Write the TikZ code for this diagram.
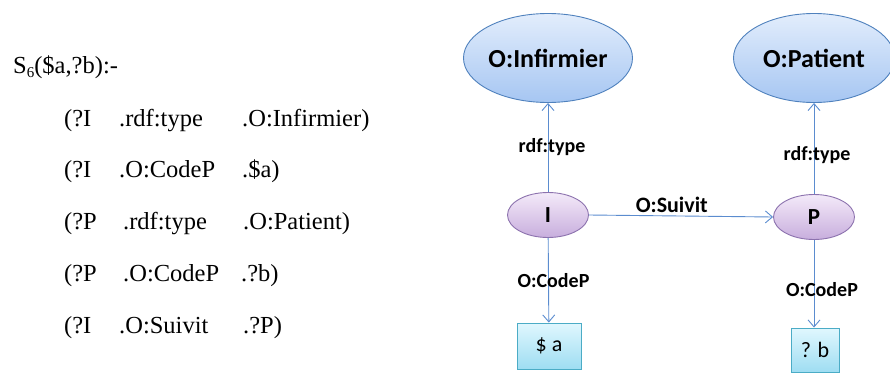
\documentclass[tikz,border=0pt]{standalone}
\usepackage{fontspec}
\setmainfont{Liberation Serif}
\newfontfamily\calib{Carlito}
\usetikzlibrary{arrows.meta,shapes.geometric}
\definecolor{lineblue}{HTML}{5B8CCF}
\definecolor{bigedge}{HTML}{4F81BD}
\definecolor{bigtop}{HTML}{E2EDFC}
\definecolor{bigbot}{HTML}{A6C6F2}
\definecolor{vedge}{HTML}{8C72AE}
\definecolor{vtop}{HTML}{F4EAF9}
\definecolor{vbot}{HTML}{C7AEDD}
\definecolor{bedge}{HTML}{4BACC6}
\definecolor{btop}{HTML}{E0F7FE}
\definecolor{bbot}{HTML}{9EDDF2}
\tikzset{
  bigell/.style={ellipse, draw=bigedge, line width=0.9pt, top color=bigtop, bottom color=bigbot,
    minimum width=169pt, minimum height=89pt, inner sep=0pt, font=\calib\bfseries\fontsize{26}{30}\selectfont},
  varell/.style={ellipse, draw=vedge, line width=0.9pt, top color=vtop, bottom color=vbot,
    minimum width=81pt, minimum height=45pt, inner sep=0pt, font=\calib\bfseries\fontsize{23}{26}\selectfont},
  valbox/.style={rectangle, draw=bedge, line width=0.9pt, top color=btop, bottom color=bbot,
    inner sep=0pt, font=\calib\fontsize{22}{26}\selectfont},
  conn/.style={draw=lineblue, line width=0.9pt, -{Straight Barb[length=7pt,width=12pt,line width=0.9pt]}},
  elab/.style={font=\calib\bfseries\fontsize{20}{23}\selectfont, inner sep=0pt, text=black},
  rule/.style={anchor=base west, inner sep=0pt, font=\fontsize{24.5}{28}\selectfont}
}
\begin{document}
\begin{tikzpicture}[x=1pt,y=-1pt]
\useasboundingbox (0,0) rectangle (890,372);
% left text
\node[rule] (head) at (13,73) {S\raisebox{-4pt}{\fontsize{15}{17}\selectfont 6}(\$a,?b):-};
\node[rule] (r1a) at (64,126) {(?I};
\node[rule] (r1b) at (119,126) {.rdf:type};
\node[rule] (r1c) at (242,126) {.O:Infirmier)};
\node[rule] (r2a) at (64,177) {(?I};
\node[rule] (r2b) at (119,177) {.O:CodeP};
\node[rule] (r2c) at (242,177) {.\$a)};
\node[rule] (r3a) at (64,229) {(?P};
\node[rule] (r3b) at (123,229) {.rdf:type};
\node[rule] (r3c) at (243,229) {.O:Patient)};
\node[rule] (r4a) at (64,281) {(?P};
\node[rule] (r4b) at (123,281) {.O:CodeP};
\node[rule] (r4c) at (241,281) {.?b)};
\node[rule] (r5a) at (64,333) {(?I};
\node[rule] (r5b) at (119,333) {.O:Suivit};
\node[rule] (r5c) at (243,333) {.?P)};
% graph
\node[bigell] (OI) at (548,58) {O:Infirmier};
\node[bigell, minimum width=161pt] (OP) at (814,58) {O:Patient};
\node[varell] (I) at (548,215) {I};
\node[varell] (P) at (814,217) {P};
\node[valbox, minimum width=64pt, minimum height=46pt] (A) at (549,346) {\$ a};
\node[valbox, minimum width=48pt, minimum height=44pt] (B) at (815,350) {? b};
\draw[conn] (I) -- node[elab, pos=0.5, xshift=4pt] {rdf:type} (OI);
\draw[conn] (P) -- node[elab, pos=0.43, xshift=3pt] {rdf:type} (OP);
\draw[conn] (I) -- node[elab, pos=0.5, xshift=5pt] {O:CodeP} (A);
\draw[conn] (P.south) -- node[elab, pos=0.57, xshift=8pt] {O:CodeP} (P.south |- B.north);
\draw[conn] (I.east) -- node[elab, font=\calib\bfseries\fontsize{22}{25}\selectfont, pos=0.45, anchor=south, yshift=3pt] {O:Suivit} (P.west);
\end{tikzpicture}
\end{document}
